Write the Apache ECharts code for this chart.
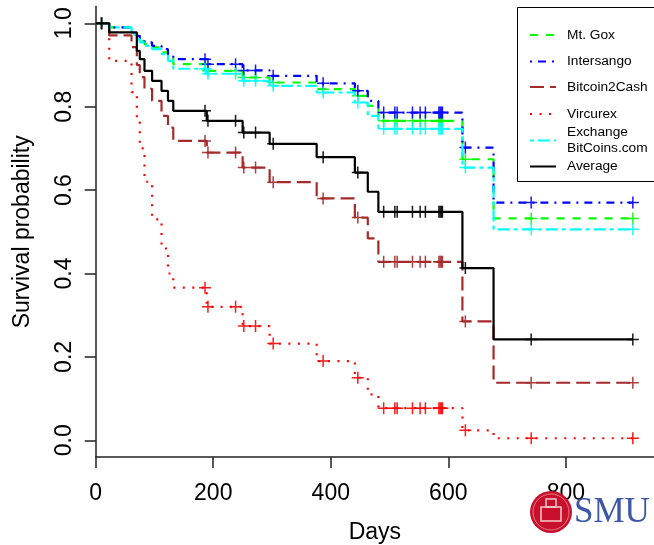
<!DOCTYPE html>
<html>
<head>
<meta charset="utf-8">
<script src="https://cdn.jsdelivr.net/npm/echarts@6/dist/echarts.min.js"></script>
<style>html,body{margin:0;padding:0;background:#fff}#c{width:654px;height:545px}</style>
</head>
<body>
<div id="c"></div>
<script>
// ---- data ----
const eventDays = [0, 23, 61, 70, 75, 83, 96, 112, 123, 132, 189, 250, 296, 376, 441, 463, 481, 624, 677];
const lastDay = 914;
const censorDays = [10, 186, 191, 238, 252, 272, 302, 387, 446, 490, 509, 513, 539, 552, 561, 584, 586, 588, 590, 629, 741, 914];

const mtGox       = [1.0, 0.990, 0.974, 0.966, 0.958, 0.950, 0.942, 0.930, 0.918, 0.902, 0.886, 0.870, 0.858, 0.842, 0.826, 0.802, 0.766, 0.674, 0.532];
const intersango  = [1.0, 0.990, 0.978, 0.970, 0.962, 0.954, 0.946, 0.938, 0.926, 0.914, 0.902, 0.887, 0.874, 0.856, 0.838, 0.814, 0.786, 0.702, 0.570];
const bitcoin2Cash= [1.0, 0.971, 0.943, 0.900, 0.871, 0.843, 0.814, 0.778, 0.750, 0.718, 0.690, 0.654, 0.619, 0.580, 0.534, 0.484, 0.428, 0.285, 0.138];
const vircurex    = [1.0, 0.910, 0.835, 0.763, 0.700, 0.620, 0.530, 0.460, 0.400, 0.366, 0.320, 0.274, 0.232, 0.190, 0.150, 0.110, 0.077, 0.024, 0.005];
const exchangeBC  = [1.0, 0.990, 0.974, 0.962, 0.954, 0.946, 0.938, 0.926, 0.910, 0.891, 0.879, 0.862, 0.850, 0.834, 0.810, 0.778, 0.747, 0.654, 0.506];
const average     = [1.0, 0.978, 0.978, 0.934, 0.914, 0.886, 0.862, 0.838, 0.814, 0.790, 0.766, 0.738, 0.711, 0.679, 0.642, 0.596, 0.548, 0.413, 0.242];

const seriesNames = ['Mt. Gox', 'Intersango', 'Bitcoin2Cash', 'Vircurex', 'Exchange\nBitCoins.com', 'Average'];
const xTicks = [0, 200, 400, 600, 800];
const yTicks = [0, 0.2, 0.4, 0.6, 0.8, 1.0];

// ---- styles ----
const FONT = 'Liberation Sans, Arial, Helvetica, sans-serif';
const styles = [
  {color: '#00ff00', dash: [8, 8]},
  {color: '#0000ff', dash: [2, 6, 8, 6]},
  {color: '#a52a2a', dash: [14, 6]},
  {color: '#ff0000', dash: [2, 7.5]},
  {color: '#00ffff', dash: [4, 4, 12, 4]},
  {color: '#000000', dash: 'solid'}
];
const valuesList = [mtGox, intersango, bitcoin2Cash, vircurex, exchangeBC, average];

function valueAt(vals, d) {
  let v = vals[0];
  for (let i = 0; i < eventDays.length; i++) if (eventDays[i] <= d) v = vals[i];
  return v;
}
const crossPath = 'path://M0,5.25H12V6.75H0Z M5.25,0H6.75V12H5.25Z';

const series = [];
valuesList.forEach((vals, k) => {
  const st = styles[k];
  const stepData = eventDays.map((d, i) => [d, vals[i]]);
  stepData.push([lastDay, vals[vals.length - 1]]);
  series.push({
    type: 'line', name: seriesNames[k], step: 'end', data: stepData,
    showSymbol: false, symbol: 'none', silent: true, z: 2 + k,
    lineStyle: {color: st.color, width: 2.2, type: st.dash}
  });
  series.push({
    type: 'scatter', name: seriesNames[k] + ' censor', silent: true, z: 2 + k,
    data: censorDays.map(d => [d, valueAt(vals, d)]),
    symbol: crossPath, symbolSize: 12,
    itemStyle: {color: st.color, opacity: 0.9}
  });
});

// ---- legend (graphic) ----
const legendGraphics = [{
  type: 'rect', shape: {x: 517.5, y: 7.5, width: 160, height: 174}, z: 50,
  style: {fill: '#fff', stroke: '#000', lineWidth: 1}
}];
const legendY = [35, 61.5, 87, 114, 140.5, 166.5];
seriesNames.forEach((n, k) => {
  const y = legendY[k];
  legendGraphics.push({
    type: 'line', z: 51, shape: {x1: 530, y1: y, x2: 556, y2: y},
    style: {stroke: styles[k].color, lineWidth: 2, lineDash: styles[k].dash === 'solid' ? null : styles[k].dash}
  });
  legendGraphics.push({
    type: 'text', z: 51, x: 567, y: y,
    style: {text: n, fill: '#000', font: '13.7px ' + FONT, textVerticalAlign: 'middle', lineHeight: 16}
  });
});

// SMU watermark
const logo = [
  {type: 'circle', shape: {cx: 551, cy: 512, r: 21}, style: {fill: '#c8102e'}, z: 60},
  {type: 'circle', shape: {cx: 551, cy: 512, r: 18}, style: {fill: 'none', stroke: '#e87a7a', lineWidth: 1}, z: 61},
  {type: 'rect', shape: {x: 541, y: 507, width: 20, height: 14}, style: {fill: 'none', stroke: '#f4caca', lineWidth: 1.5}, z: 61},
  {type: 'rect', shape: {x: 546, y: 499, width: 10, height: 8}, style: {fill: 'none', stroke: '#f4caca', lineWidth: 1.5}, z: 61},
  {type: 'text', x: 574, y: 513, z: 60,
   style: {text: 'SMU', fill: '#3d56a6', font: '35px Liberation Serif, DejaVu Serif, serif', textVerticalAlign: 'middle'}}
];

const chart = echarts.init(document.getElementById('c'), null, {renderer: 'canvas'});
chart.setOption({
  animation: false,
  backgroundColor: '#fff',
  grid: {left: 95.7, right: 0, top: 6.6, bottom: 88, containLabel: false, outerBoundsMode: 'none'},
  xAxis: {
    type: 'value', min: 0, max: 950,
    name: 'Days', nameLocation: 'middle', nameGap: 64,
    nameTextStyle: {fontFamily: FONT, fontSize: 23, color: '#000'},
    axisLine: {show: true, onZero: false, lineStyle: {color: '#222', width: 1.5}},
    axisTick: {show: true, length: 11, lineStyle: {color: '#222', width: 1.5}, customValues: xTicks},
    axisLabel: {customValues: xTicks, fontFamily: FONT, fontSize: 23, color: '#000', margin: 25,
      formatter: v => String(v)},
    splitLine: {show: false}
  },
  yAxis: {
    type: 'value', min: -0.04, max: 1.04,
    name: 'Survival probability', nameLocation: 'middle', nameGap: 62, nameRotate: 90,
    nameTextStyle: {fontFamily: FONT, fontSize: 23, color: '#000'},
    axisLine: {show: true, onZero: false, lineStyle: {color: '#222', width: 1.5}},
    axisTick: {show: true, length: 11, lineStyle: {color: '#222', width: 1.5}, customValues: yTicks},
    axisLabel: {customValues: yTicks, rotate: 90, fontFamily: FONT, fontSize: 23, color: '#000', margin: 20,
      formatter: v => Number(v).toFixed(1)},
    splitLine: {show: false}
  },
  graphic: legendGraphics.concat(logo),
  series: series
});
</script>
</body>
</html>
